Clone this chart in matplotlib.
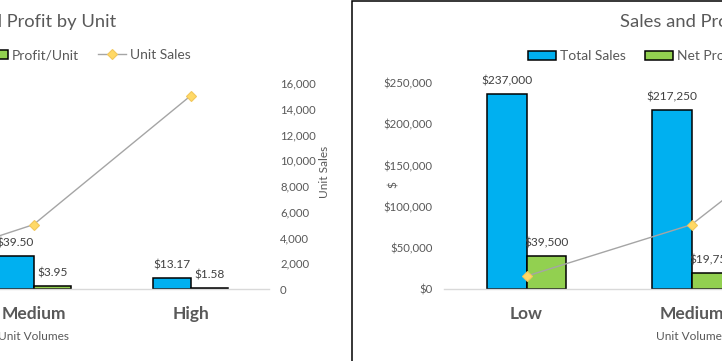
import numpy as np
import matplotlib.pyplot as plt
from matplotlib.patches import Rectangle
from matplotlib.ticker import FuncFormatter

plt.rcParams['font.family'] = ['Lato', 'DejaVu Sans']

W, H = 722, 361

categories = ["Low", "Medium", "High"]

# left chart: values per unit
price_unit = [237.00, 39.50, 13.17]
profit_unit = [39.50, 3.95, 1.58]
unit_sales = [1000, 5000, 15000]

# right chart: totals
total_sales = [237000, 217250, 197550]
net_profit = [39500, 19750, 23700]

BLUE = '#00B0F0'
GREEN = '#92D050'
GOLD = '#FFD966'
LINE_GREY = '#A5A5A5'
TXT = '#595959'


def px_rect(x0, x1, y_top, y_bot):
    # pixel box (from top-left) -> figure fraction rect
    return [x0 / W, 1 - y_bot / H, (x1 - x0) / W, (y_bot - y_top) / H]


def bar_chart(ax, v1, v2, ymax, step, fmt_tick, fmt_label):
    x = np.arange(len(categories))
    w = 0.24
    b1 = ax.bar(x - w / 2, v1, w, color=BLUE, edgecolor='black', linewidth=1.1)
    b2 = ax.bar(x + w / 2, v2, w, color=GREEN, edgecolor='black', linewidth=1.1)
    for bars, vals in ((b1, v1), (b2, v2)):
        for rect, v in zip(bars, vals):
            ax.annotate(fmt_label(v), (rect.get_x() + rect.get_width() / 2, v),
                        xytext=(0, 9.5), textcoords='offset points',
                        ha='center', va='center', fontsize=8.6, color='#404040')
    ax.set_xlim(-0.5, len(categories) - 0.5)
    ax.set_ylim(0, ymax)
    ax.set_xticks(x)
    ax.set_xticklabels(categories, fontsize=12.5, fontweight='bold', color=TXT)
    ax.set_yticks(np.arange(0, ymax + 1, step))
    ax.yaxis.set_major_formatter(FuncFormatter(fmt_tick))
    ax.tick_params(axis='x', length=0, pad=12.5)
    ax.tick_params(axis='y', length=0, pad=8, labelsize=8.2, labelcolor=TXT)
    for s in ('top', 'left', 'right'):
        ax.spines[s].set_visible(False)
    ax.spines['bottom'].set_color('#D9D9D9')
    ax.spines['bottom'].set_linewidth(1)
    ax.set_xlabel("Unit Volumes", fontsize=8.6, color=TXT)
    ax.xaxis.set_label_coords(0.5, (289 - 331) / 206)
    return b1, b2


def line_axis(ax):
    ax2 = ax.twinx()
    ln, = ax2.plot(np.arange(len(categories)), unit_sales, color=LINE_GREY, lw=1,
                   marker='D', ms=5.5, mfc=GOLD, mec='#F2C75C', mew=0.8)
    ax2.set_ylim(0, 16000)
    ax2.set_yticks(np.arange(0, 16001, 2000))
    ax2.yaxis.set_major_formatter(FuncFormatter(lambda v, p: f"{v:,.0f}"))
    ax2.tick_params(axis='y', length=0, pad=8, labelsize=8.2, labelcolor=TXT)
    for s in ax2.spines.values():
        s.set_visible(False)
    return ax2, ln


fig = plt.figure(figsize=(W / 100, H / 100), dpi=100)

#---------------------------- left chart (per unit) ----------------------------
ax_l = fig.add_axes(px_rect(-202, 269, 83, 289))
b1, b2 = bar_chart(ax_l, price_unit, profit_unit, 250, 50,
                   lambda v, p: f"${v:,.0f}", lambda v: f"${v:,.2f}")
ax_l2, ln = line_axis(ax_l)
ax_l2.set_ylabel("Unit Sales", fontsize=8.6, color=TXT)
ax_l2.yaxis.label.set_verticalalignment('center')
ax_l2.yaxis.set_label_coords((325 + 202) / 471, (289 - 172) / 206)
ax_l2.legend([b1, b2, ln], ["Price/Unit", "Profit/Unit", "Unit Sales"],
             loc='center right', bbox_to_anchor=(198 / W, 1 - 55 / H),
             bbox_transform=fig.transFigure, ncol=3, frameon=False, borderpad=0,
             fontsize=10, labelcolor=TXT, handlelength=2.0, handleheight=0.6,
             handletextpad=0.3, columnspacing=1.4)
fig.text(116 / W, 1 - 22 / H, "Price and Profit by Unit", ha='right', va='center',
         fontsize=13.2, color=TXT)

#---------------------------- right chart (totals) ----------------------------
ax_r = fig.add_axes(px_rect(444, 939, 83, 289))
c1, c2 = bar_chart(ax_r, total_sales, net_profit, 250000, 50000,
                   lambda v, p: f"${v:,.0f}", lambda v: f"${v:,.0f}")
ax_r.set_ylabel("$", fontsize=8.6, color=TXT)
ax_r.yaxis.label.set_verticalalignment('center')
ax_r.yaxis.set_label_coords((393 - 444) / 495, (289 - 185) / 206)
ax_r2, ln2 = line_axis(ax_r)
ax_r2.legend([c1, c2, ln2], ["Total Sales", "Net Profit", "Unit Sales"],
             loc='center left', bbox_to_anchor=(521 / W, 1 - 56 / H),
             bbox_transform=fig.transFigure, ncol=3, frameon=False, borderpad=0,
             fontsize=10, labelcolor=TXT, handlelength=2.0, handleheight=0.6,
             handletextpad=0.3, columnspacing=1.4)
fig.text(620 / W, 1 - 22 / H, "Sales and Profit by Unit Volume", ha='left', va='center',
         fontsize=13.2, color=TXT)

# border of the right chart area
fig.add_artist(Rectangle((351.5 / W, -0.1), 1, 1.1 - 0.8 / H, transform=fig.transFigure,
                         fill=False, edgecolor='black', linewidth=1.1))

fig.savefig("out.png", dpi=100)
